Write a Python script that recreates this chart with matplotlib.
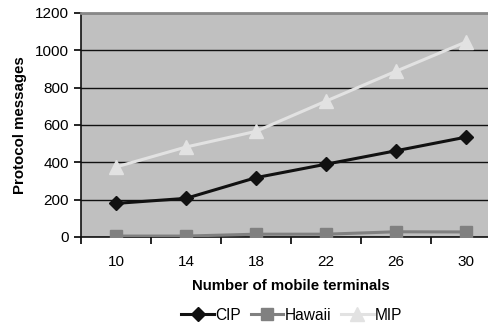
import matplotlib.pyplot as plt
import numpy as np

plt.rcParams["font.family"] = ["Liberation Sans", "DejaVu Sans"]

terminals = ["10", "14", "18", "22", "26", "30"]
cip = [180, 207, 318, 390, 462, 535]
hawaii = [5, 5, 15, 15, 28, 27]
mip = [375, 482, 566, 728, 888, 1045]

fig = plt.figure(figsize=(4.89, 3.25), dpi=100)
# plot area runs past the right edge of the canvas
ax = fig.add_axes([81 / 489, 1 - 237 / 325, 420 / 489, 224 / 325])
ax.set_facecolor("#c0c0c0")

x = np.arange(len(terminals))
ax.plot(x, mip, color="#e2e2e2", lw=2.2, marker="^", ms=9.5, label="MIP", zorder=3)
ax.plot(x, hawaii, color="#808080", lw=2.2, marker="s", ms=8.5, label="Hawaii", zorder=3)
ax.plot(x, cip, color="#111111", lw=2.2, marker="D", ms=7, label="CIP", zorder=4)

ax.set_xlim(-0.5, len(terminals) - 0.5)
ax.set_ylim(0, 1200)
ax.set_yticks(range(0, 1201, 200))
ax.yaxis.grid(True, color="#111111", lw=1.0)
ax.set_axisbelow(True)

ax.set_xticks(x)
ax.set_xticklabels(terminals)
ax.set_xticks(np.arange(-0.5, len(terminals), 1), minor=True)
ax.tick_params(axis="x", which="major", length=0, pad=13, labelsize=11)
ax.tick_params(axis="x", which="minor", length=5, width=1.2, direction="out")
ax.tick_params(axis="y", length=5, width=1.2, direction="out", labelsize=11)

for side in ["left", "bottom"]:
    ax.spines[side].set_color("#111111")
    ax.spines[side].set_linewidth(1.2)
ax.spines["top"].set_color("#888888")
ax.spines["top"].set_linewidth(2)
ax.spines["right"].set_visible(False)

ax.set_ylabel("Protocol messages", fontsize=10.8, fontweight="bold", labelpad=6)
fig.text(291 / 489, 1 - 286 / 325, "Number of mobile terminals",
         ha="center", va="center", fontsize=10.8, fontweight="bold")

handles, labels = ax.get_legend_handles_labels()
order = [2, 1, 0]
fig.legend([handles[i] for i in order], [labels[i] for i in order],
           loc="center", bbox_to_anchor=(292 / 489, 1 - 315 / 325), ncol=3,
           frameon=False, fontsize=11.2, handlelength=2.1, handletextpad=0.1,
           columnspacing=0.6, borderpad=0)

fig.savefig("out.png", dpi=100)
